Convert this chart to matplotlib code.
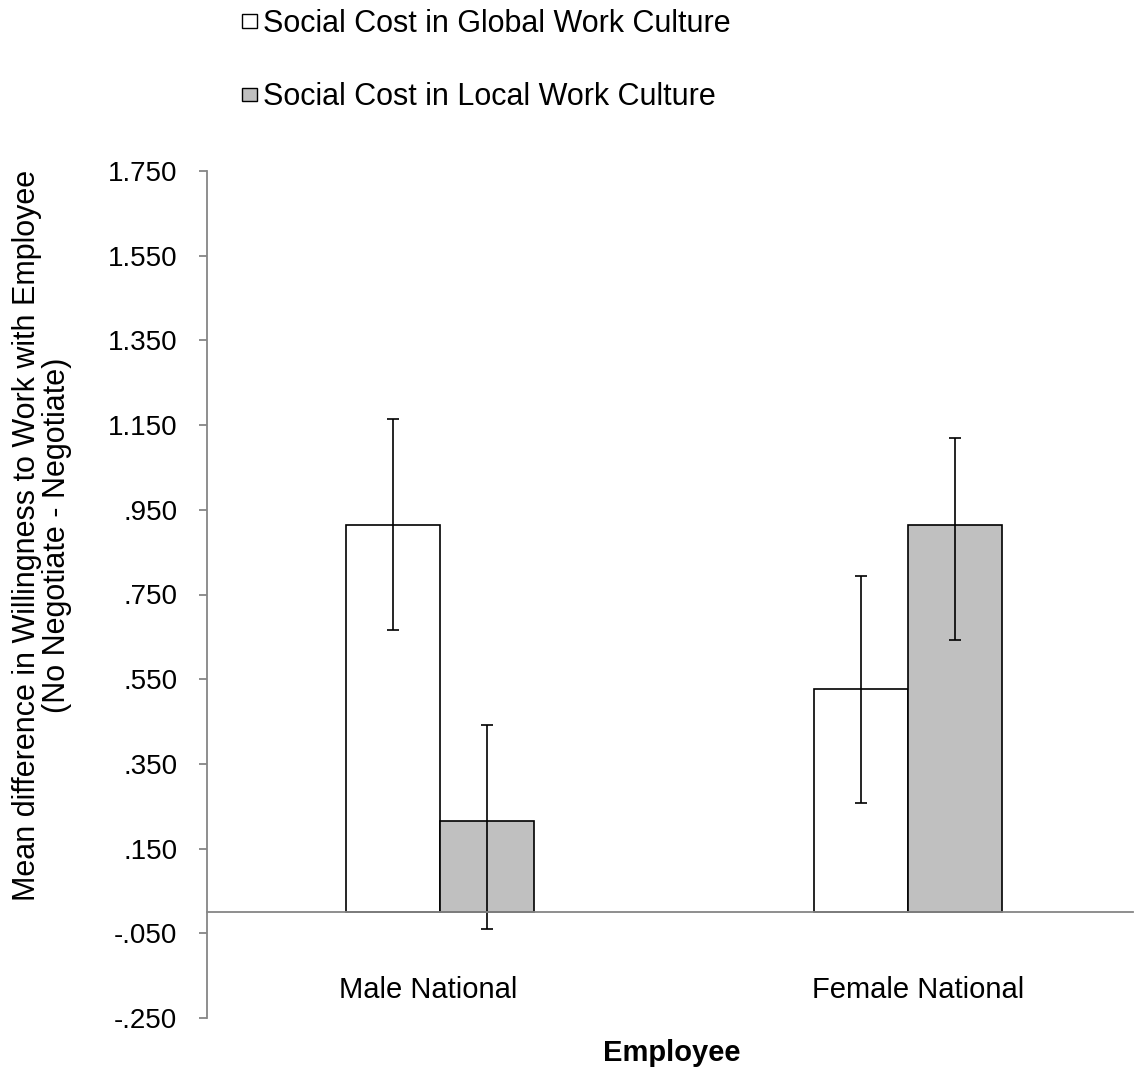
import matplotlib
matplotlib.use("Agg")
import matplotlib.pyplot as plt
import matplotlib.patches as mpatches
import matplotlib.transforms as mtransforms
import numpy as np

#fonts: Arial-like first
plt.rcParams['font.family'] = ['Liberation Sans', 'DejaVu Sans']

#values
categories = ["Male National", "Female National"]
series_names = ["Social Cost in Global Work Culture", "Social Cost in Local Work Culture"]
global_means = [0.915, 0.527]
global_err_low = [0.25, 0.27]
global_err_high = [0.25, 0.266]
local_means = [0.216, 0.913]
local_err_low = [0.255, 0.271]
local_err_high = [0.226, 0.207]
y_ticks = [-0.25, -0.05, 0.15, 0.35, 0.55, 0.75, 0.95, 1.15, 1.35, 1.55, 1.75]

fig = plt.figure(figsize=(11.35, 10.7), dpi=100)
ax = fig.add_axes([207 / 1135, 1 - 1018 / 1070, 926 / 1135, 847 / 1070])

x = np.arange(len(categories))
w = 0.2
axis_grey = "#868686"

ax.bar(x - w / 2, global_means, w, color="white", edgecolor="black", linewidth=1.2,
       yerr=[global_err_low, global_err_high], capsize=4.3,
       error_kw=dict(elinewidth=1.2, capthick=1.2, ecolor="black"))
ax.bar(x + w / 2, local_means, w, color="#c0c0c0", edgecolor="black", linewidth=1.2,
       yerr=[local_err_low, local_err_high], capsize=4.3,
       error_kw=dict(elinewidth=1.2, capthick=1.2, ecolor="black"))

ax.set_xlim(-0.498, 1.481)
ax.set_ylim(-0.25, 1.75)

#spines like the excel chart
ax.spines["top"].set_visible(False)
ax.spines["right"].set_visible(False)
ax.spines["bottom"].set_position(("data", 0))
ax.spines["bottom"].set_color(axis_grey)
ax.spines["left"].set_color(axis_grey)
ax.spines["bottom"].set_linewidth(1.3)
ax.spines["left"].set_linewidth(1.3)

ax.set_yticks(y_ticks)
labels = []
for v in y_ticks:
    s = f"{v:.3f}"
    s = s.replace("0.", ".", 1) if abs(v) < 1 else s
    labels.append(s)
ax.set_yticklabels(labels)
ax.tick_params(axis="y", direction="out", length=5.8, width=1.3, color=axis_grey,
               labelsize=20, pad=15.5)

ax.set_xticks(x)
ax.set_xticklabels(categories)
ax.tick_params(axis="x", length=0, labelsize=21, pad=46)
#excel puts the category names a little off the bar centres
shifts = [-12, 10]
for lab, dx in zip(ax.get_xticklabels(), shifts):
    lab.set_transform(lab.get_transform() + mtransforms.ScaledTranslation(dx / 100, 0, fig.dpi_scale_trans))

ax.set_xlabel("Employee", fontsize=21, fontweight="bold")
ax.xaxis.set_label_coords(0.502, -0.025)
ax.set_ylabel("Mean difference in Willingness to Work with Employee\n(No Negotiate - Negotiate)",
              fontsize=22, linespacing=1.0)
ax.yaxis.set_label_coords(-0.146, 0.57)

handles = [mpatches.Patch(facecolor="white", edgecolor="black", linewidth=1.0),
           mpatches.Patch(facecolor="#c0c0c0", edgecolor="black", linewidth=1.0)]
fig.legend(handles, series_names, loc="upper left", bbox_to_anchor=(242 / 1135, 1 - 9 / 1070),
           frameon=False, fontsize=22, handlelength=0.5, handleheight=0.3,
           handletextpad=0.2, labelspacing=1.42, borderpad=0, borderaxespad=0)

fig.savefig("out.png", dpi=100)
